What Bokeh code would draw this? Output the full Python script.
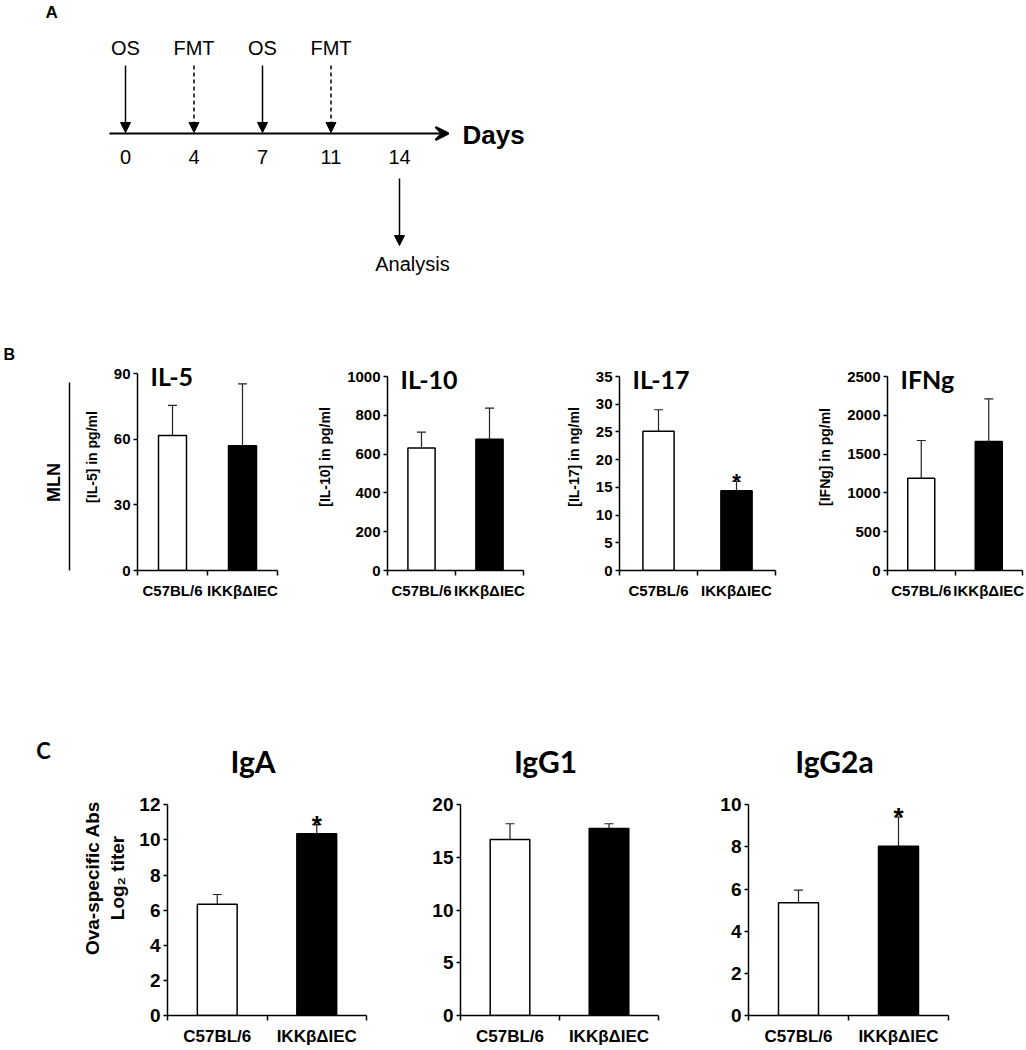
import numpy as np
from bokeh.plotting import figure
from bokeh.models import (Range1d, FixedTicker, Label, Arrow, NormalHead, VeeHead,
                          TeeHead, Whisker, ColumnDataSource)
from bokeh.layouts import row, column
from bokeh.core.properties import value
from bokeh.embed import file_html
from bokeh.resources import INLINE

# ---------------- data ----------------
groups = ["C57BL/6", "IKKβΔIEC"]
bar_colors = ["white", "black"]

timeline_days = ["0", "4", "7", "11", "14"]
timeline_events = ["OS", "FMT", "OS", "FMT"]
event_dashed = [False, True, False, True]
end_event = "Analysis"

# Panel B (MLN cytokines)
il5_mean = [61.7, 57.0]
il5_err = [13.7, 28.3]
il5_ticks = [0, 30, 60, 90]
il5_sig = [False, False]

il10_mean = [632, 677]
il10_err = [81, 160]
il10_ticks = [0, 200, 400, 600, 800, 1000]
il10_sig = [False, False]

il17_mean = [25.1, 14.4]
il17_err = [3.9, 1.7]
il17_ticks = [0, 5, 10, 15, 20, 25, 30, 35]
il17_sig = [False, True]

ifng_mean = [1190, 1662]
ifng_err = [485, 550]
ifng_ticks = [0, 500, 1000, 1500, 2000, 2500]
ifng_sig = [False, False]

# Panel C (Ova-specific antibodies)
iga_mean = [6.33, 10.35]
iga_err = [0.56, 0.52]
iga_ticks = [0, 2, 4, 6, 8, 10, 12]
iga_sig = [False, True]

igg1_mean = [16.7, 17.75]
igg1_err = [1.5, 0.45]
igg1_ticks = [0, 5, 10, 15, 20]
igg1_sig = [False, False]

igg2a_mean = [5.35, 8.03]
igg2a_err = [0.6, 1.39]
igg2a_ticks = [0, 2, 4, 6, 8, 10]
igg2a_sig = [False, True]

ARIAL = "Liberation Sans"
CAL = "Lato"


def blank(w, h, xr, yr, bt=0, bb=0):
    p = figure(width=w, height=h, x_range=xr, y_range=yr, x_axis_type=None,
               y_axis_type=None, output_backend="svg", toolbar_location=None,
               min_border_left=0, min_border_right=0, min_border_top=bt,
               min_border_bottom=bb)
    p.grid.visible = False
    p.outline_line_color = None
    return p


# ---------------- Panel A: timeline ----------------
W = 1026
step = 68.5
x0 = 125.0
hA = 343
figA = blank(W, hA, Range1d(-x0 / step, (W - x0) / step), Range1d(hA, 0))
n_days = len(timeline_days)
figA.add_layout(Arrow(x_start=-0.234, y_start=133, x_end=4.715, y_end=133,
                      line_width=2.2, line_color="black",
                      end=VeeHead(size=13, line_width=2.2, line_color="black")))
for i, ev in enumerate(timeline_events):
    figA.add_layout(Arrow(x_start=i, y_start=65, x_end=i, y_end=132,
                          line_width=1.5, line_color="black",
                          line_dash="4 3" if event_dashed[i] else "solid",
                          end=NormalHead(size=10, fill_color="black",
                                         line_color="black", line_width=1)))
figA.text(x=list(range(len(timeline_events))), y=[47] * len(timeline_events),
          text=timeline_events, text_align="center", text_baseline="middle",
          text_font=value(ARIAL), text_font_size="20px", text_color="black")
figA.text(x=list(range(n_days)), y=[156] * n_days, text=timeline_days,
          text_align="center", text_baseline="middle",
          text_font=value(ARIAL), text_font_size="20px", text_color="black")
figA.add_layout(Arrow(x_start=n_days - 1, y_start=178, x_end=n_days - 1, y_end=245,
                      line_width=1.5, line_color="black",
                      end=NormalHead(size=10, fill_color="black",
                                     line_color="black", line_width=1)))
figA.add_layout(Label(x=n_days - 1 + 0.19, y=263, text=end_event, text_align="center",
                      text_baseline="middle", text_font=ARIAL, text_font_size="20px",
                      text_color="black"))
figA.add_layout(Label(x=(462 - x0) / step, y=134, text="Days", text_align="left",
                      text_baseline="middle", text_font=ARIAL, text_font_style="bold",
                      text_font_size="26px", text_color="black"))
figA.add_layout(Label(x=(45 - x0) / step, y=12, text="A", text_align="left",
                      text_baseline="middle", text_font=ARIAL, text_font_style="bold",
                      text_font_size="17px", text_color="black"))

# ---------------- helpers ----------------


def bar_chart(means, errs, sig, ticks, ylabel, title, *, w, h, bl, br, bt, bb,
              yspan_px, tick_fs, cat_fs, lab_fs, title_fs, star_fs, star_off,
              title_mode, lab_standoff, title_dy):
    n = len(groups)
    ymax = ticks[-1]
    frame_h = h - bt - bb
    y_end = ymax * frame_h / yspan_px
    xs = [2 * i + 1 for i in range(n)]
    upper = [m + e for m, e in zip(means, errs)]
    p = figure(width=w, height=h, x_range=Range1d(0, 2 * n), y_range=Range1d(0, y_end),
               output_backend="svg", toolbar_location=None,
               min_border_left=bl, min_border_right=br, min_border_top=bt,
               min_border_bottom=bb)
    p.grid.visible = False
    p.outline_line_color = None
    src = ColumnDataSource(dict(x=xs, top=means, upper=upper, fill=bar_colors[:n]))
    p.vbar(x="x", top="top", bottom=0, width=0.8, fill_color="fill",
           line_color="black", line_width=1.5, source=src)
    p.add_layout(Whisker(base="x", lower="top", upper="upper", source=src,
                         lower_head=None,
                         upper_head=TeeHead(size=9, line_width=1.2, line_color="#222222"),
                         line_width=1.2, line_color="#222222"))
    sx = [x for x, s in zip(xs, sig) if s]
    sy = [u for u, s in zip(upper, sig) if s]
    if sx:
        p.text(x=sx, y=sy, text=["*"] * len(sx), text_align="center",
               text_baseline="alphabetic", y_offset=star_off,
               text_font=value(ARIAL), text_font_style="bold",
               text_font_size=star_fs, text_color="black")
    # y axis
    ya = p.yaxis[0]
    ya.ticker = FixedTicker(ticks=ticks)
    ya.bounds = (0, ymax)
    ya.major_tick_out = 4
    ya.major_tick_in = 0
    ya.minor_tick_line_color = None
    ya.axis_line_width = 1.5
    ya.axis_line_color = "black"
    ya.major_tick_line_color = "black"
    ya.major_tick_line_width = 1.5
    ya.major_label_standoff = 3
    ya.major_label_text_font = ARIAL
    ya.major_label_text_font_style = "bold"
    ya.major_label_text_font_size = tick_fs
    ya.major_label_text_color = "black"
    ya.axis_label = ylabel
    ya.axis_label_text_font = ARIAL
    ya.axis_label_text_font_style = "bold"
    ya.axis_label_text_font_size = lab_fs
    ya.axis_label_text_color = "black"
    ya.axis_label_standoff = lab_standoff
    # x axis
    xa = p.xaxis[0]
    xa.ticker = FixedTicker(ticks=xs, minor_ticks=[2 * i for i in range(n + 1)])
    xa.major_label_overrides = {x: g for x, g in zip(xs, groups)}
    xa.major_tick_in = 0
    xa.major_tick_out = 0
    xa.minor_tick_in = 0
    xa.minor_tick_out = 5
    xa.minor_tick_line_color = "black"
    xa.minor_tick_line_width = 1.5
    xa.axis_line_width = 1.5
    xa.axis_line_color = "black"
    xa.major_label_standoff = 6
    xa.major_label_text_font = ARIAL
    xa.major_label_text_font_style = "bold"
    xa.major_label_text_font_size = cat_fs
    xa.major_label_text_color = "black"
    # title
    if title_mode == "inside":
        p.add_layout(Label(x=0, y=ymax, x_offset=13, y_offset=title_dy, text=title,
                           text_align="left", text_baseline="middle", text_font=CAL,
                           text_font_style="bold", text_font_size=title_fs,
                           text_color="black"))
    else:
        p.add_layout(Label(x=n, y=ymax, x_offset=-14, y_offset=title_dy, text=title,
                           text_align="center", text_baseline="middle", text_font=CAL,
                           text_font_style="bold", text_font_size=title_fs,
                           text_color="black"))
    return p


# ---------------- Panel B ----------------
hB, btB, bbB = 267, 0, 40
figLabB = blank(80, hB, Range1d(0, 80), Range1d(hB - bbB, btB), bt=btB, bb=bbB)
figLabB.add_layout(Label(x=3, y=11, text="B", text_align="left", text_baseline="middle",
                         text_font=ARIAL, text_font_style="bold", text_font_size="16px",
                         text_color="black"))
figLabB.add_layout(Label(x=53, y=139, text="MLN", angle=np.pi / 2, text_align="center",
                         text_baseline="middle", text_font=ARIAL, text_font_style="bold",
                         text_font_size="18px", text_color="black"))
figLabB.add_layout(Arrow(x_start=69, y_start=39, x_end=69, y_end=240, start=None, end=None,
                         line_color="black", line_width=1.5))

commonB = dict(h=hB, bt=btB, bb=bbB, tick_fs="15px", cat_fs="15px", lab_fs="14px",
               title_fs="25px", star_fs="22px", star_off=0, title_mode="inside",
               lab_standoff=11, title_dy=-2)
b1 = bar_chart(il5_mean, il5_err, il5_sig, il5_ticks, "[IL-5] in pg/ml", "IL-5",
               w=230, bl=56, br=33, yspan_px=197, **commonB)
b2 = bar_chart(il10_mean, il10_err, il10_sig, il10_ticks, "[IL-10] in pg/ml", "IL-10",
               w=250, bl=77, br=37, yspan_px=194, **commonB)
b3 = bar_chart(il17_mean, il17_err, il17_sig, il17_ticks, "[IL-17] in ng/ml", "IL-17",
               w=240, bl=59, br=25, yspan_px=194, **commonB)
b4 = bar_chart(ifng_mean, ifng_err, ifng_sig, ifng_ticks, "[IFNg] in pg/ml", "IFNg",
               w=226, bl=87, br=4, yspan_px=194, **commonB)

# ---------------- Panel C ----------------
hC, btC, bbC = 438, 130, 30
figLabC = blank(70, hC, Range1d(0, 70), Range1d(hC - bbC, btC), bt=btC, bb=bbC)
figLabC.add_layout(Label(x=43, y=140, text="C", text_align="center", text_baseline="middle",
                         text_font=CAL, text_font_style="bold", text_font_size="22px",
                         text_color="black"))

commonC = dict(h=hC, bt=btC, bb=bbC, tick_fs="19px", cat_fs="17px", lab_fs="19px",
               title_fs="30px", star_fs="26px", star_off=0, title_mode="above",
               lab_standoff=8, yspan_px=213, title_dy=44)
c1 = bar_chart(iga_mean, iga_err, iga_sig, iga_ticks, "Ova-specific Abs\nLog\u2082 titer",
               "IgA", w=330, bl=97, br=34, **commonC)
c2 = bar_chart(igg1_mean, igg1_err, igg1_sig, igg1_ticks, "", "IgG1",
               w=290, bl=60, br=32, **commonC)
c3 = bar_chart(igg2a_mean, igg2a_err, igg2a_sig, igg2a_ticks, "", "IgG2a",
               w=336, bl=58, br=78, **commonC)

layout = column(figA, row(figLabB, b1, b2, b3, b4), row(figLabC, c1, c2, c3))

open("out.html", "w").write(file_html(layout, INLINE))
